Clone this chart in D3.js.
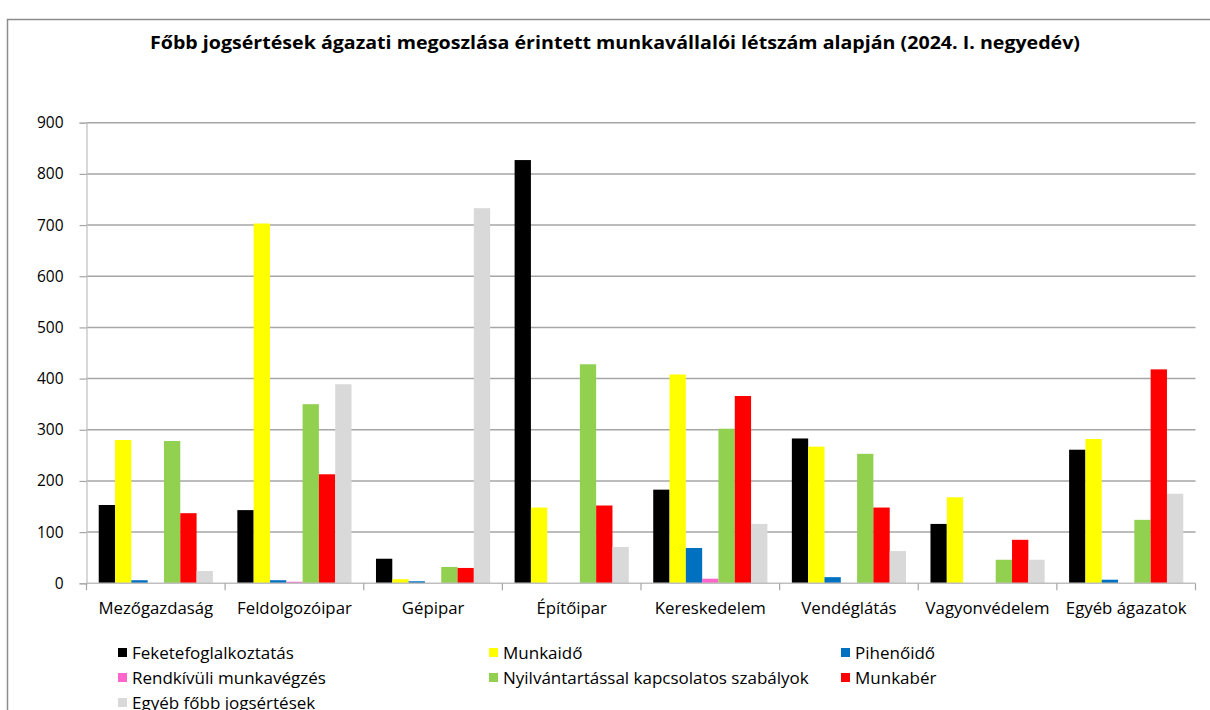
<!DOCTYPE html>
<html>
<head>
<meta charset="utf-8">
<script src="https://cdn.jsdelivr.net/npm/d3@7"></script>
<style>
  html, body { margin: 0; padding: 0; background: #fff; }
  svg { display: block; font-family: "Open Sans", "Noto Sans", sans-serif; }
</style>
</head>
<body>
<div id="chart"></div>
<script>
// ── Data ────────────────────────────────────────────────────────────────────
const categories = [
  "Mezőgazdaság", "Feldolgozóipar", "Gépipar", "Építőipar",
  "Kereskedelem", "Vendéglátás", "Vagyonvédelem", "Egyéb ágazatok",
];
const seriesNames = [
  "Feketefoglalkoztatás", "Munkaidő", "Pihenőidő", "Rendkívüli munkavégzés",
  "Nyilvántartással kapcsolatos szabályok", "Munkabér", "Egyéb főbb jogsértések",
];
const seriesColors = ["#000000", "#ffff00", "#0070c0", "#ff66cc", "#92d050", "#ff0000", "#d9d9d9"];

// one array per series, in category order
const feketefoglalkoztatas = [153, 143, 48, 827, 183, 283, 116, 261];
const munkaido             = [280, 703, 8, 148, 408, 267, 168, 282];
const pihenoido            = [6, 6, 4, 0, 69, 12, 0, 7];
const rendkivuli           = [0, 3, 0, 0, 9, 0, 0, 0];
const nyilvantartas        = [278, 350, 32, 428, 302, 253, 46, 124];
const munkaber             = [137, 213, 30, 152, 366, 148, 85, 418];
const egyeb                = [24, 389, 733, 71, 116, 63, 46, 175];
const seriesValues = [feketefoglalkoztatas, munkaido, pihenoido, rendkivuli, nyilvantartas, munkaber, egyeb];

const yTicks = [0, 100, 200, 300, 400, 500, 600, 700, 800, 900];
const title = "Főbb jogsértések ágazati megoszlása érintett munkavállalói létszám alapján (2024. I. negyedév)";

// ── Layout ──────────────────────────────────────────────────────────────────
const W = 1210, H = 710;
const plot = { left: 86.5, right: 1195.5, top: 122.7, bottom: 583.3 };

const svg = d3.select("#chart").append("svg")
  .attr("width", W).attr("height", H);

// outer frame (continues past the picture edges)
svg.append("rect")
  .attr("x", 7.5).attr("y", 19.5)
  .attr("width", 1400).attr("height", 1000)
  .attr("fill", "none").attr("stroke", "#8c8c8c").attr("stroke-width", 1.5);

// title is condensed in the original, so stretch to its measured width
svg.append("text")
  .attr("x", 615).attr("y", 49)
  .attr("text-anchor", "middle")
  .attr("textLength", 930).attr("lengthAdjust", "spacingAndGlyphs")
  .style("font-weight", 700).style("font-size", "18px")
  .attr("fill", "#000")
  .text(title);

// ── Scales ──────────────────────────────────────────────────────────────────
const x = d3.scaleBand().domain(categories).range([plot.left, plot.right]).padding(0);
const xs = d3.scaleBand().domain(d3.range(seriesNames.length))
  .range([0, x.bandwidth()]).paddingInner(0).paddingOuter(0.75);
const y = d3.scaleLinear().domain([0, 900]).range([plot.bottom, plot.top]);

// gridlines
svg.append("g").selectAll("line")
  .data(yTicks.filter(d => d > 0))
  .join("line")
  .attr("x1", plot.left).attr("x2", plot.right)
  .attr("y1", d => y(d)).attr("y2", d => y(d))
  .attr("stroke", "#a6a6a6").attr("stroke-width", 1.5);

// y axis
const yAxis = svg.append("g")
  .attr("transform", `translate(${plot.left},0)`)
  .call(d3.axisLeft(y).tickValues(yTicks).tickSize(7).tickPadding(16));
yAxis.select(".domain").attr("stroke", "#bfbfbf").attr("stroke-width", 1.2);
yAxis.selectAll(".tick line").attr("stroke", "#a6a6a6").attr("stroke-width", 1.2);
yAxis.selectAll(".tick text")
  .style("font-size", "15.5px").style("font-family", "'Open Sans', sans-serif").attr("fill", "#000");

// bars
const groups = svg.append("g").selectAll("g")
  .data(categories)
  .join("g")
  .attr("transform", d => `translate(${x(d)},0)`);

groups.selectAll("rect")
  .data((c, ci) => seriesValues.map((vals, si) => ({ si, v: vals[ci] })))
  .join("rect")
  .attr("x", d => xs(d.si))
  .attr("width", xs.bandwidth())
  .attr("y", d => y(d.v))
  .attr("height", d => y(0) - y(d.v))
  .attr("fill", d => seriesColors[d.si]);

// x axis
const xAxis = svg.append("g");
xAxis.append("line")
  .attr("x1", plot.left).attr("x2", plot.right)
  .attr("y1", plot.bottom).attr("y2", plot.bottom)
  .attr("stroke", "#bfbfbf").attr("stroke-width", 1.5);
xAxis.selectAll("line.tick")
  .data(categories.map(c => x(c)).concat([plot.right]))
  .join("line")
  .attr("class", "tick")
  .attr("x1", d => d).attr("x2", d => d)
  .attr("y1", plot.bottom).attr("y2", plot.bottom + 7)
  .attr("stroke", "#a6a6a6").attr("stroke-width", 1.2);
xAxis.selectAll("text")
  .data(categories)
  .join("text")
  .attr("x", d => x(d) + x.bandwidth() / 2)
  .attr("y", 614)
  .attr("text-anchor", "middle")
  .style("font-size", "16.8px")
  .attr("fill", "#000")
  .text(d => d);

// ── Legend ──────────────────────────────────────────────────────────────────
const legendCols = [118, 489, 841];
const legendRows = [653, 678, 703];
const legend = svg.append("g").selectAll("g")
  .data(seriesNames)
  .join("g")
  .attr("transform", (d, i) => `translate(${legendCols[i % 3]},${legendRows[Math.floor(i / 3)]})`);
legend.append("rect")
  .attr("x", 0).attr("y", -5).attr("width", 9).attr("height", 9)
  .attr("fill", (d, i) => seriesColors[i]);
legend.append("text")
  .attr("x", 14).attr("y", 5.5)
  .style("font-size", "17px")
  .attr("fill", "#000")
  .text(d => d);
</script>
</body>
</html>
